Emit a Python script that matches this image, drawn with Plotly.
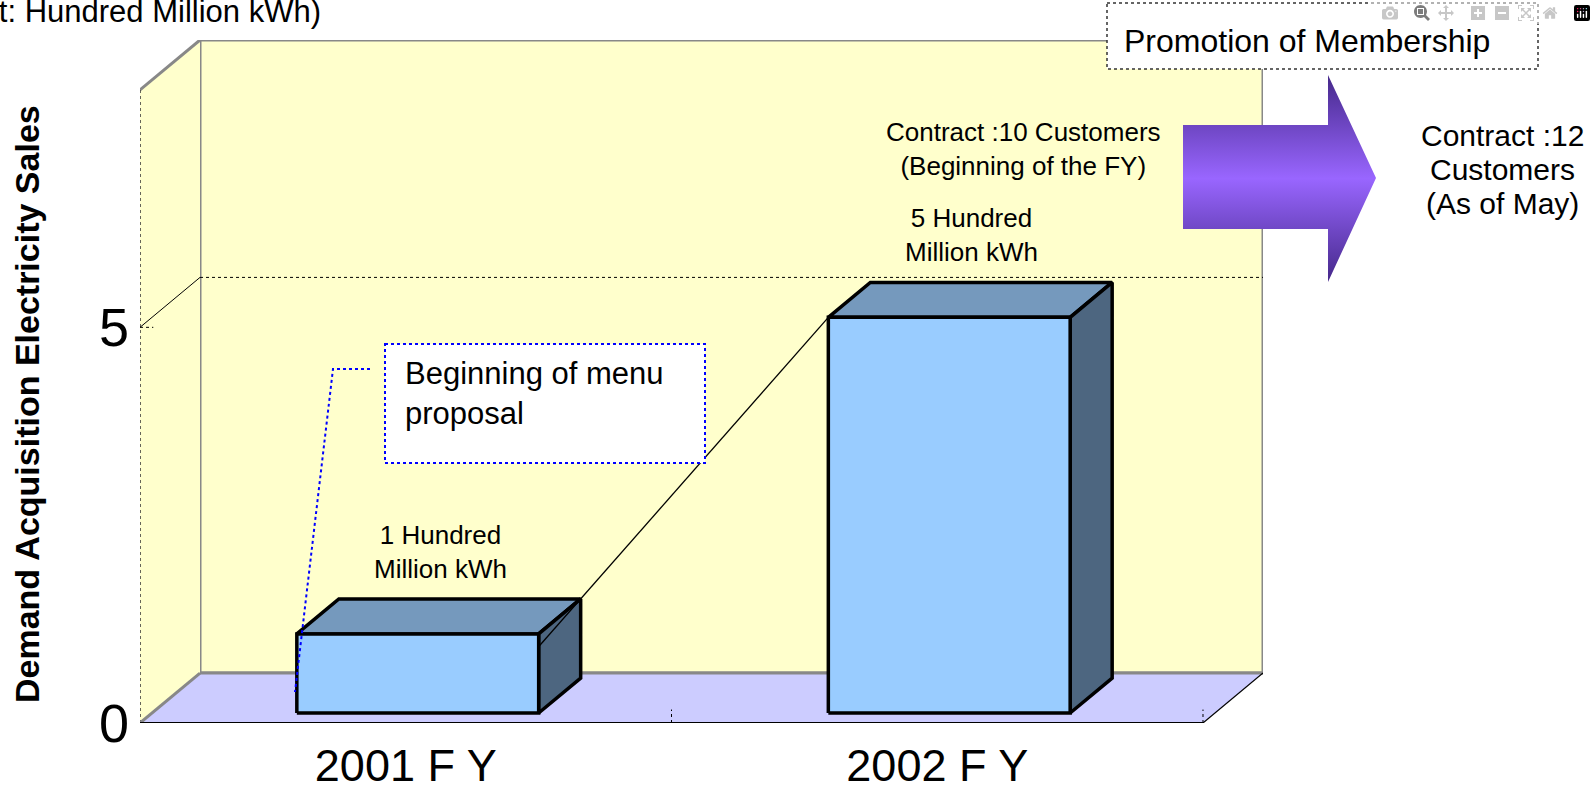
import plotly.graph_objects as go

W, H = 1596, 788

# ---------------- data ----------------
categories = ["2001 F Y", "2002 F Y"]
sales = [1, 5]  # hundred million kWh
value_labels = ["1 Hundred<br>Million kWh", "5 Hundred<br>Million kWh"]
y_ticks = [0, 5]
y_tick_labels = ["0", "5"]
gridline_value = 5
y_title = "Demand Acquisition Electricity Sales"
unit_text = "(Unit: Hundred Million kWh)"
promo_text = "Promotion of Membership"
contract_begin = "Contract :10 Customers<br>(Beginning of the FY)"
contract_may_lines = ["Contract :12", "Customers", "(As of May)"]
menu_text = "Beginning of menu<br>proposal"

# ---------------- geometry / style ----------------
FONT = "Liberation Sans, Arial, sans-serif"
Y_MAX = 8
X_MIN, X_MAX = -0.5, 1.5
DX = 0.1129   # 3D depth along x (axis units)
DY = 0.631    # 3D depth along y (axis units)
BAR_HALF = 0.2275
BAR_FRONT = 0.2
BAR_BACK = 0.9
WALL = "#FFFFCC"
FLOOR = "#CCCCFF"
EDGE_GRAY = "#888888"
BAR_FRONT_C = "#99CCFF"
BAR_TOP_C = "#7599BD"
BAR_SIDE_C = "#4D6680"

fig = go.Figure()


def poly(xs, ys, fill=None, line_color=None, width=0, dash=None, xa="x", ya="y"):
    kw = dict(x=xs, y=ys, mode="lines", hoverinfo="skip", showlegend=False,
              xaxis=xa, yaxis=ya)
    if fill is not None:
        kw["fill"] = "toself"
        kw["fillcolor"] = fill
    if line_color is None:
        kw["line"] = dict(width=0, color="rgba(0,0,0,0)")
    else:
        kw["line"] = dict(width=width, color=line_color, dash=dash)
    fig.add_trace(go.Scatter(**kw))


bx0, bx1 = X_MIN + DX, X_MAX + DX
by0, by1 = DY, Y_MAX + DY

# back wall
poly([bx0, bx1, bx1, bx0, bx0], [by0, by0, by1, by1, by0], fill=WALL,
     line_color=EDGE_GRAY, width=3)
# left wall
poly([X_MIN, X_MIN, bx0, bx0, X_MIN], [0, Y_MAX, by1, by0, 0], fill=WALL)
poly([X_MIN, bx0], [Y_MAX, by1], line_color=EDGE_GRAY, width=3)
poly([X_MIN, X_MIN], [0, Y_MAX], line_color="#333333", width=1.5, dash="dot")
# floor
poly([X_MIN, X_MAX, bx1, bx0, X_MIN], [0, 0, by0, by0, 0], fill=FLOOR)
poly([X_MIN, bx0], [0, by0], line_color=EDGE_GRAY, width=3)
poly([bx0, bx1], [by0, by0], line_color=EDGE_GRAY, width=3)
poly([X_MAX, bx1], [0, by0], line_color="black", width=1.2)
poly([X_MIN, X_MAX], [0, 0], line_color="black", width=2)

# gridline at 5 (back wall + left wall)
poly([bx0, bx1], [gridline_value + DY] * 2, line_color="black", width=1, dash="dot")
poly([X_MIN, bx0], [gridline_value, gridline_value + DY], line_color="black", width=1)
poly([X_MIN, X_MIN + 0.025], [gridline_value] * 2, line_color="black", width=1, dash="dot")
# category separator ticks on floor
for k in range(len(categories)):
    xt = k + 0.5
    poly([xt, xt], [0, 0.17], line_color="black", width=1, dash="dot")

# bars
tops = []
for i, v in enumerate(sales):
    xl = i - BAR_HALF + BAR_FRONT * DX
    xr = i + BAR_HALF + BAR_FRONT * DX
    yb = BAR_FRONT * DY
    yt = yb + v
    dx = (BAR_BACK - BAR_FRONT) * DX
    dy = (BAR_BACK - BAR_FRONT) * DY
    poly([xl, xr, xr + dx, xl + dx, xl], [yt, yt, yt + dy, yt + dy, yt],
         fill=BAR_TOP_C, line_color="black", width=3.5)
    poly([xr, xr + dx, xr + dx, xr, xr], [yb, yb + dy, yt + dy, yt, yb],
         fill=BAR_SIDE_C, line_color="black", width=3.5)
    poly([xl, xr, xr, xl, xl], [yb, yb, yt, yt, yb],
         fill=BAR_FRONT_C, line_color="black", width=3.5)
    tops.append(dict(xl=xl, xr=xr, yt=yt, dx=dx, dy=dy))
    fig.add_annotation(x=i + 0.065, y=yt + dy, xref="x", yref="y",
                       text=value_labels[i], showarrow=False, yanchor="bottom",
                       yshift=13, font=dict(family=FONT, size=26, color="black"))

# connector line from bar 2 front-top-left corner through bar 1 back-top-right corner
p2 = (tops[1]["xl"], tops[1]["yt"])
p1 = (tops[0]["xr"] + tops[0]["dx"], tops[0]["yt"] + tops[0]["dy"])
t = 1.17
start = (p2[0] + t * (p1[0] - p2[0]), p2[1] + t * (p1[1] - p2[1]))
poly([start[0], p2[0]], [start[1], p2[1]], line_color="black", width=1.3)

# ---------------- decorations (pixel overlay) ----------------
arrow_x = [1183, 1328, 1328, 1376, 1328, 1328, 1183, 1183]
arrow_y = [125, 125, 75, 178, 282, 229, 229, 125]
fig.add_trace(go.Scatter(
    x=arrow_x, y=arrow_y, mode="lines", fill="toself", xaxis="x2", yaxis="y2",
    line=dict(width=0, color="rgba(0,0,0,0)"), hoverinfo="skip", showlegend=False,
    fillgradient=dict(type="vertical",
                      colorscale=[[0, "#45288A"], [0.5, "#9966FF"], [1, "#45288A"]]),
))

shapes = [
    dict(type="rect", xref="x2", yref="y2", x0=385, x1=705, y0=344, y1=463,
         fillcolor="white", line=dict(color="#0000FF", width=2, dash="dot")),
    dict(type="path", xref="x2", yref="y2", path="M 370 369 L 333 369 L 295 692",
         line=dict(color="#0000FF", width=2, dash="dot")),
    dict(type="rect", xref="x2", yref="y2", x0=1107, x1=1538, y0=3, y1=69,
         fillcolor="white", line=dict(color="#333333", width=1.5, dash="dot")),
]

annos = [
    dict(x=403, y=393, text=menu_text, xanchor="left", yanchor="middle", align="left",
         font=dict(size=31)),
    dict(x=1122, y=41, text=promo_text, xanchor="left", yanchor="middle",
         font=dict(size=32)),
    dict(x=1023, y=149, text=contract_begin, xanchor="center", yanchor="middle",
         font=dict(size=26)),
    dict(x=27, y=404, text="<b>" + y_title + "</b>", textangle=-90,
         xanchor="center", yanchor="middle", font=dict(size=34)),
]
for k, line in enumerate(contract_may_lines):
    annos.append(dict(x=1502, y=135 + 34 * k, text=line, xanchor="center",
                      yanchor="middle", font=dict(size=30)))
for a in annos:
    a.update(xref="x2", yref="y2", showarrow=False)
    a["font"].update(family=FONT, color="black")
    fig.add_annotation(**a)

# unit note (partly cut at the left edge, as in the original)
fig.add_annotation(x=-60 / W, y=1 - 11 / H, xref="paper", yref="paper", text=unit_text,
                   xanchor="left", yanchor="middle", showarrow=False,
                   font=dict(family=FONT, size=31, color="black"))

fig.update_layout(
    width=W, height=H, margin=dict(l=0, r=0, t=0, b=0, autoexpand=False),
    paper_bgcolor="white", plot_bgcolor="rgba(0,0,0,0)",
    shapes=shapes, showlegend=False,
    font=dict(family=FONT, color="black"),
    xaxis=dict(domain=[140 / W, 1263 / W], range=[X_MIN, X_MAX + DX],
               showgrid=False, zeroline=False, showline=False, automargin=False,
               tickmode="array", tickvals=list(range(len(categories))), ticktext=categories,
               tickfont=dict(size=45, family=FONT), ticks="", ticklabelstandoff=12),
    yaxis=dict(domain=[1 - 723 / H, 1 - 40 / H], range=[0, Y_MAX + DY],
               showgrid=False, zeroline=False, showline=False, automargin=False,
               tickmode="array", tickvals=y_ticks, ticktext=y_tick_labels,
               tickfont=dict(size=54, family=FONT), ticks="", ticklabelstandoff=10),
    xaxis2=dict(domain=[0, 1], range=[0, W], visible=False, anchor="y2", automargin=False),
    yaxis2=dict(domain=[0, 1], range=[H, 0], visible=False, anchor="x2", automargin=False),
)

fig.write_html("out.html",
               post_script="document.body.style.margin='0';document.body.style.overflow='hidden';")
